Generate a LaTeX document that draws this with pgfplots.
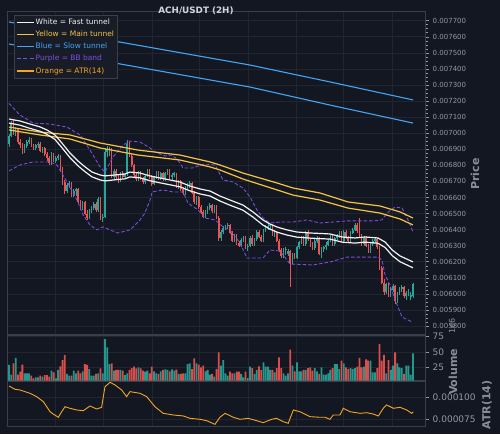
\documentclass[border=0pt]{standalone}
\usepackage{fontspec}
\setmainfont{DejaVu Sans}
\usepackage{pgfplots}
\pgfplotsset{compat=1.18}
\usepackage{pgfplotstable}
\definecolor{bg}{HTML}{131722}
\definecolor{gridc}{HTML}{21252F}
\definecolor{spine}{HTML}{3A3E4A}
\definecolor{tickc}{HTML}{9598A1}
\definecolor{labc}{HTML}{8A8D96}
\definecolor{titlec}{HTML}{D1D4DC}
\definecolor{upc}{HTML}{26A69A}
\definecolor{dnc}{HTML}{EF5350}
\definecolor{twhite}{HTML}{F2F2F2}
\definecolor{tyellow}{HTML}{F5C242}
\definecolor{tblue}{HTML}{42A5F5}
\definecolor{tpurple}{HTML}{7B4FE0}
\definecolor{torange}{HTML}{F5A623}
\definecolor{legbg}{HTML}{181C27}

\pgfplotstableread{
i o h l c v
0 6930 6995 6915 6985 28.8
1 6985 7075 6975 7060 13
2 7060 7085 6990 7000 31.5
3 7000 7040 6985 7025 40.3
4 7025 7035 6930 6945 13
5 6945 6965 6910 6925 17.9
6 6925 6940 6870 6885 29.3
7 6885 6930 6875 6920 15.2
8 6920 6955 6905 6945 15.2
9 6945 6975 6930 6960 15.2
10 6960 6970 6915 6925 11.4
11 6925 6935 6895 6905 7
12 6905 6935 6895 6925 8.6
13 6925 6945 6910 6935 8.6
14 6935 6945 6880 6890 11.4
15 6890 6915 6875 6905 9.7
16 6905 6915 6860 6870 12.4
17 6870 6885 6830 6845 12.4
18 6845 6860 6805 6815 9.7
19 6815 6880 6805 6870 19.5
20 6870 6875 6820 6830 16.8
21 6830 6855 6815 6845 7
22 6845 6870 6835 6860 20.6
23 6860 6865 6760 6775 26.6
24 6775 6790 6680 6695 36.9
25 6695 6710 6620 6640 45
26 6640 6690 6630 6675 14.1
27 6675 6700 6660 6690 11.4
28 6690 6695 6600 6615 11.4
29 6615 6650 6600 6640 19.5
30 6640 6660 6610 6650 15.2
31 6650 6660 6560 6570 19.5
32 6570 6585 6520 6530 15.2
33 6530 6580 6520 6570 18.4
34 6570 6575 6490 6500 30.4
35 6500 6520 6460 6475 28.8
36 6475 6530 6465 6520 22.2
37 6520 6545 6505 6535 11.4
38 6535 6570 6525 6560 11.4
39 6560 6570 6510 6520 14.1
40 6520 6600 6510 6590 15.2
41 6590 6600 6460 6475 23.3
42 6470 6495 6450 6480 15.2
43 6480 6910 6470 6880 71.2
44 6880 6920 6850 6900 57.6
45 6900 6915 6860 6905 30.4
46 6905 6910 6720 6730 31.5
47 6730 6775 6715 6765 19.5
48 6765 6780 6715 6725 20.6
49 6725 6740 6690 6700 20.6
50 6700 6760 6695 6750 20.6
51 6750 6765 6715 6725 19.5
52 6725 6755 6715 6745 12.4
53 6745 6960 6735 6935 15.2
54 6935 6945 6850 6860 20.6
55 6860 6870 6790 6800 23.8
56 6800 6810 6730 6740 26
57 6740 6755 6700 6715 23.3
58 6715 6765 6705 6755 25
59 6755 6765 6710 6720 23.3
60 6720 6730 6685 6695 19.5
61 6695 6745 6685 6735 17.9
62 6735 6775 6725 6765 19.5
63 6765 6775 6715 6725 15.2
64 6725 6740 6670 6685 26
65 6685 6735 6675 6725 18.4
66 6725 6765 6715 6755 15.2
67 6755 6765 6710 6720 14.1
68 6720 6760 6710 6750 18.4
69 6750 6760 6705 6715 20.6
70 6715 6760 6705 6750 21.7
71 6750 6780 6740 6770 20.6
72 6770 6775 6715 6725 18.4
73 6725 6750 6700 6740 21.7
74 6740 6760 6725 6750 19.5
75 6750 6755 6660 6670 21.1
76 6670 6710 6650 6700 14.1
77 6700 6710 6640 6650 14.1
78 6650 6665 6615 6625 15.2
79 6625 6670 6615 6660 15.2
80 6660 6690 6645 6680 30.4
81 6680 6700 6660 6690 31.5
82 6690 6695 6620 6630 22.2
83 6630 6640 6560 6570 39.8
84 6570 6610 6555 6600 31.5
85 6600 6610 6530 6540 29.3
86 6540 6555 6500 6510 25
87 6510 6520 6470 6480 27.7
88 6480 6520 6470 6510 18.4
89 6510 6545 6495 6535 20.6
90 6535 6565 6520 6555 13
91 6555 6560 6505 6515 14.1
92 6515 6550 6505 6540 9.7
93 6540 6555 6465 6475 22.2
94 6475 6485 6330 6345 49.4
95 6345 6400 6330 6385 27.7
96 6385 6425 6370 6410 36.9
97 6410 6430 6395 6420 15.2
98 6420 6440 6405 6430 11.4
99 6430 6435 6370 6380 17.9
100 6380 6390 6320 6330 15.2
101 6330 6370 6320 6360 15.2
102 6360 6370 6305 6315 17.9
103 6315 6330 6290 6300 17.9
104 6300 6345 6290 6335 14.1
105 6335 6360 6325 6350 8.6
106 6350 6360 6280 6290 17.9
107 6290 6310 6265 6300 7.5
108 6300 6360 6290 6350 26
109 6350 6365 6300 6310 23.8
110 6310 6350 6300 6340 14.1
111 6340 6395 6330 6385 20.6
112 6385 6395 6345 6355 26.6
113 6355 6365 6320 6330 20.6
114 6330 6405 6320 6395 33.1
115 6395 6430 6385 6420 26
116 6420 6435 6400 6425 26
117 6425 6430 6395 6428 20.6
118 6428 6432 6360 6370 20.6
119 6370 6395 6355 6385 16.8
120 6385 6390 6320 6330 23.8
121 6330 6340 6260 6270 41.4
122 6270 6285 6225 6235 23.8
123 6235 6285 6225 6275 15.2
124 6275 6290 6240 6280 11.4
125 6250 6280 6235 6265 15.2
126 6265 6275 6040 6195 53.9
127 6195 6255 6185 6245 27.7
128 6245 6255 6215 6225 18.4
129 6225 6300 6215 6290 33.1
130 6290 6330 6280 6320 18.4
131 6320 6360 6310 6350 18.4
132 6350 6360 6300 6310 20.6
133 6310 6390 6300 6380 20.6
134 6380 6395 6330 6340 23.8
135 6340 6350 6290 6300 25
136 6300 6320 6270 6285 19.5
137 6285 6340 6275 6330 23.8
138 6330 6360 6315 6350 18.4
139 6350 6355 6240 6250 14.1
140 6250 6290 6225 6280 25
141 6280 6300 6260 6290 13
142 6290 6320 6270 6305 13
143 6305 6340 6295 6330 15.2
144 6330 6365 6320 6355 20.6
145 6355 6365 6300 6310 23.8
146 6310 6355 6300 6345 30.4
147 6345 6375 6335 6365 30.4
148 6365 6390 6350 6380 22.2
149 6380 6390 6320 6330 35.9
150 6330 6395 6320 6385 31.5
151 6385 6395 6340 6350 25
152 6350 6360 6320 6330 22.2
153 6330 6390 6325 6380 23.8
154 6380 6410 6370 6400 22.2
155 6400 6440 6390 6430 23.8
156 6430 6440 6380 6390 26
157 6390 6475 6350 6360 40.3
158 6360 6370 6300 6310 25
159 6310 6360 6300 6350 26
160 6350 6360 6290 6300 38.1
161 6300 6310 6255 6265 35.9
162 6265 6320 6255 6310 35.9
163 6310 6340 6300 6330 16.8
164 6330 6350 6315 6340 16.8
165 6340 6345 6280 6290 23.8
166 6290 6300 6150 6160 63
167 6160 6175 6060 6070 35.9
168 6070 6090 5990 6010 45.5
169 6010 6070 6000 6060 15.2
170 6060 6070 5980 5990 36.9
171 5990 6040 5980 6025 20.6
172 6025 6060 6010 6050 27.7
173 6050 6055 5940 5955 49.4
174 5955 6010 5945 6000 31.5
175 6000 6045 5990 6030 25
176 6030 6055 6010 6040 23.8
177 6040 6050 5975 5985 14.1
178 5985 6020 5965 6005 27.7
179 6005 6030 5985 6015 27.7
180 5980 6010 5960 5995 13
181 5985 6070 5975 6060 47.8
}\candles

\pgfplotstableread{
i u l
0 7088 7063
4.9 7076 7050
9.4 7057 7030
13.9 7039 7012
17.0 7020 6993
20.6 6989 6961
23.7 6939 6910
27.3 6877 6848
30.9 6827 6797
34.1 6790 6760
37.2 6758 6728
40.8 6740 6709
43.0 6734 6703
47.5 6740 6710
52.0 6746 6716
54.2 6758 6728
58.7 6752 6722
63.2 6734 6704
67.7 6721 6691
72.1 6709 6679
76.6 6696 6666
81.1 6671 6641
85.6 6653 6622
90.1 6640 6609
94.5 6609 6578
99.0 6584 6552
104.8 6553 6521
109.3 6510 6478
113.8 6460 6428
116.9 6435 6403
120.1 6416 6384
124.6 6398 6366
129.0 6385 6353
134.9 6379 6347
143.8 6373 6341
149.2 6354 6322
155.0 6348 6316
159.5 6354 6322
165.3 6348 6315
168.5 6323 6289
171.7 6273 6238
175.2 6236 6200
181.0 6199 6162
}\whitet

\pgfplotstableread{
i u l
0 7038 7020
13.9 7007 6989
27.3 6989 6964
40.8 6939 6908
57.8 6895 6864
76.6 6864 6833
90.1 6821 6790
94.5 6802 6771
104.8 6752 6715
120.1 6690 6647
127.2 6659 6615
139.3 6628 6584
151.9 6572 6534
166.2 6547 6503
175.2 6510 6466
181 6472 6429
}\yellowt

\pgfplotstableread{
i u l
0 7692 7555
49.7 7567 7431
108 7424 7287
143.8 7319 7175
181 7207 7063
}\bluet

\pgfplotstableread{
i b
0 7185
4.9 7113
10.8 7063
18.4 7057
26 7038
31.8 6989
36.3 6895
40.8 6790
43 6758
46.6 6852
51.1 6926
54.2 6951
58.7 6945
63.2 6908
65.4 6883
69.9 6858
73 6864
75.7 6833
78 6783
82 6783
87.8 6808
92.3 6802
95.9 6709
100.4 6696
104.8 6659
108 6603
111.1 6522
113.8 6472
116.9 6441
121.4 6447
127.2 6447
133.5 6460
139.3 6441
145.2 6447
151.4 6454
157.3 6454
163.1 6454
167.1 6460
169.4 6503
173 6541
176.1 6534
178.8 6460
181 6385
}\bbup

\pgfplotstableread{
i b
0 6765
4.9 6802
10.8 6821
18.4 6821
21.5 6802
26 6696
30.5 6584
33.2 6491
36.3 6429
39.4 6398
42.1 6417
45.3 6398
48.8 6379
54.2 6398
58.7 6460
60.9 6503
63.2 6584
64.1 6634
69 6647
73.5 6634
78 6634
80.2 6565
84.7 6522
87.8 6472
92.3 6460
95.9 6417
99 6398
103.5 6317
106.6 6223
108 6223
113.8 6223
116.9 6273
121.4 6267
125.9 6186
136.2 6180
143.8 6198
151.4 6229
160.4 6229
165.3 6229
167.1 6211
168.5 6118
170.7 6055
173 5962
176.1 5856
180.6 5825
}\bblo

\pgfplotstableread{
i a
0 112.8
2.7 109.1
4.9 108.3
9.4 104.5
12.4 100.7
15.4 95
18.4 83.6
19.8 81
22.1 77.3
23.6 83.6
25.1 89.3
27.3 87.5
30.3 85.6
33.3 84.8
36.3 90.1
39.3 86.7
41.5 88.6
43 112
45.3 117
47.5 114
50.5 108.3
52.7 100.7
54.2 106.4
58.7 104.5
61.7 100.7
65.4 89.3
69.1 81.8
73.6 79.9
78.1 78.8
81.1 76.1
85.6 75
88.6 73.4
92.3 69.3
94.5 77.3
96.8 81.8
100.5 77.3
103.5 75
107.2 76.1
111 73.4
113.9 71.2
117.7 75
119.9 76.1
122.9 72.3
125.1 70.5
127.4 85.6
130.4 83.6
134.9 78
139.3 77.3
141.6 77.3
143.8 75
145.3 79.9
148.3 79.9
149.8 87.5
152.8 83.6
157.3 81.8
160.3 82.5
163.2 81
165.5 78.8
167.7 87.5
169.2 91.3
172.2 87.5
175.2 88.6
178.2 85.6
180.4 81.8
181.1 83.6
}\atr

\pgfplotsset{
 panel/.style={
  scale only axis, width=418.2pt,
  anchor=south west,
  xmin=-0.67, xmax=186.7,
  axis background/.style={fill=bg},
  axis line style={spine, line width=0.7pt},
  xtick={20.6,42.1,64.1,85.1,107.1,128.6,149.6,171.6},
  xticklabels={},
  major x tick style=transparent,
  xmajorgrids, ymajorgrids,
  grid style={gridc, line width=0.6pt},
  ytick pos=right,
  tick align=outside,
  major tick length=3.5pt,
  minor tick length=2pt,
  tick style={tickc, line width=0.5pt},
  yticklabel style={text=tickc},
 },
 candle/.style={only marks, mark=none, no markers, mark options={opacity=0},
  forget plot, draw=#1, color=#1,
  error bars/y dir=plus, error bars/y explicit,
  error bars/error mark options={draw opacity=0, fill opacity=0, scale=0.01}},
}

\begin{document}
\begin{tikzpicture}
\useasboundingbox (0pt,0pt) rectangle (500pt,434pt);
\fill[bg] (0pt,0pt) rectangle (500pt,434pt);

% ---------- price panel ----------
\begin{axis}[panel, at={(7.5pt,100pt)}, height=322.3pt,
  ymin=5750.3, ymax=7756,
  ytick={5800,5900,...,7700},
  yticklabels={0.005800,0.005900,0.006000,0.006100,0.006200,0.006300,0.006400,0.006500,0.006600,0.006700,0.006800,0.006900,0.007000,0.007100,0.007200,0.007300,0.007400,0.007500,0.007600,0.007700},
  yticklabel style={font=\fontsize{7}{8}\selectfont},
  minor y tick num=3,
  legend cell align=left,
  legend style={at={(0.015,0.99)}, anchor=north west, fill=legbg, draw=spine,
    line width=0.5pt, font=\fontsize{7.5}{9}\selectfont, row sep=2pt, inner sep=2pt,
    nodes={inner sep=1.5pt, text height=5.6pt, text depth=1.6pt},
    /tikz/every even column/.append style={column sep=3pt}},
  legend image code/.code={\draw[#1] (0pt,0pt) -- (17pt,0pt);},
]
% wicks
\addplot[candle=upc,
  restrict expr to domain={\thisrow{c}-\thisrow{o}}{0:10000},
  error bars/error bar style={draw=upc, line width=0.75pt}]
  table[x=i, y=l, y error expr=\thisrow{h}-\thisrow{l}] {\candles};
\addplot[candle=dnc,
  restrict expr to domain={\thisrow{c}-\thisrow{o}}{-10000:-0.01},
  error bars/error bar style={draw=dnc, line width=0.75pt}]
  table[x=i, y=l, y error expr=\thisrow{h}-\thisrow{l}] {\candles};
% bodies
\addplot[candle=upc,
  restrict expr to domain={\thisrow{c}-\thisrow{o}}{0:10000},
  error bars/error bar style={draw=upc, line width=1.6pt}]
  table[x=i, y=o, y error expr=\thisrow{c}-\thisrow{o}] {\candles};
\addplot[candle=dnc,
  restrict expr to domain={\thisrow{c}-\thisrow{o}}{-10000:-0.01},
  error bars/error bar style={draw=dnc, line width=1.6pt}]
  table[x=i, y=c, y error expr=\thisrow{o}-\thisrow{c}] {\candles};
% bands
\addplot[forget plot, tpurple, line width=0.85pt, dash pattern=on 3.5pt off 2pt] table[x=i,y=b]{\bbup};
\addplot[forget plot, tpurple, line width=0.85pt, dash pattern=on 3.5pt off 2pt] table[x=i,y=b]{\bblo};
% tunnels
\addplot[forget plot, tblue, line width=1.1pt] table[x=i,y=u]{\bluet};
\addplot[forget plot, tblue, line width=1.1pt] table[x=i,y=l]{\bluet};
\addplot[forget plot, tyellow, line width=1.2pt] table[x=i,y=u]{\yellowt};
\addplot[forget plot, tyellow, line width=1.2pt] table[x=i,y=l]{\yellowt};
\addplot[forget plot, twhite, line width=1.2pt] table[x=i,y=u]{\whitet};
\addplot[forget plot, twhite, line width=1.2pt] table[x=i,y=l]{\whitet};
% legend
\addlegendimage{line width=1.2pt, draw=twhite}
\addlegendentry[text=twhite]{White = Fast tunnel}
\addlegendimage{line width=1.2pt, draw=tyellow}
\addlegendentry[text=tyellow]{Yellow = Main tunnel}
\addlegendimage{line width=1.2pt, draw=tblue}
\addlegendentry[text=tblue]{Blue = Slow tunnel}
\addlegendimage{line width=1.2pt, draw=tpurple, dash pattern=on 4pt off 2.5pt}
\addlegendentry[text=tpurple]{Purple = BB band}
\addlegendimage{line width=1.2pt, draw=torange}
\addlegendentry[text=torange]{Orange = ATR(14)}
\end{axis}

% ---------- volume panel ----------
\begin{axis}[panel, at={(7.5pt,53.3pt)}, height=45.7pt,
  ymin=3.1, ymax=77.8,
  ytick={25,50,75}, yticklabels={25,50,75},
  yticklabel style={font=\fontsize{9}{10}\selectfont},
]
\addplot[ybar, bar width=1.8pt, bar shift=0pt, fill=upc, draw=none, fill opacity=0.9,
  restrict expr to domain={\thisrow{c}-\thisrow{o}}{0:10000}] table[x=i,y=v]{\candles};
\addplot[ybar, bar width=1.8pt, bar shift=0pt, fill=dnc, draw=none, fill opacity=0.9,
  restrict expr to domain={\thisrow{c}-\thisrow{o}}{-10000:-0.01}] table[x=i,y=v]{\candles};
\end{axis}

% ---------- ATR panel ----------
\begin{axis}[panel, at={(7.5pt,7.3pt)}, height=45.7pt,
  ymin=66.6, ymax=118.5,
  ytick={75,100}, yticklabels={0.000075,0.000100},
  yticklabel style={font=\fontsize{9}{10}\selectfont},
]
\addplot[torange, line width=0.9pt] table[x=i,y=a]{\atr};
\end{axis}

% ---------- texts ----------
\node[font=\bfseries\fontsize{8.8}{10}\selectfont, text=titlec] at (196pt,423pt) {ACH/USDT (2H)};
\node[font=\bfseries\fontsize{11}{12}\selectfont, text=labc, rotate=90] at (475pt,260pt) {Price};
\node[font=\bfseries\fontsize{11}{12}\selectfont, text=labc, rotate=90] at (453pt,62pt) {Volume};
\node[font=\bfseries\fontsize{11}{12}\selectfont, text=labc, rotate=90] at (487pt,29pt) {ATR(14)};
\node[font=\fontsize{8}{9}\selectfont, text=tickc, rotate=90] at (452pt,108pt) {1e6};
\end{tikzpicture}
\end{document}
